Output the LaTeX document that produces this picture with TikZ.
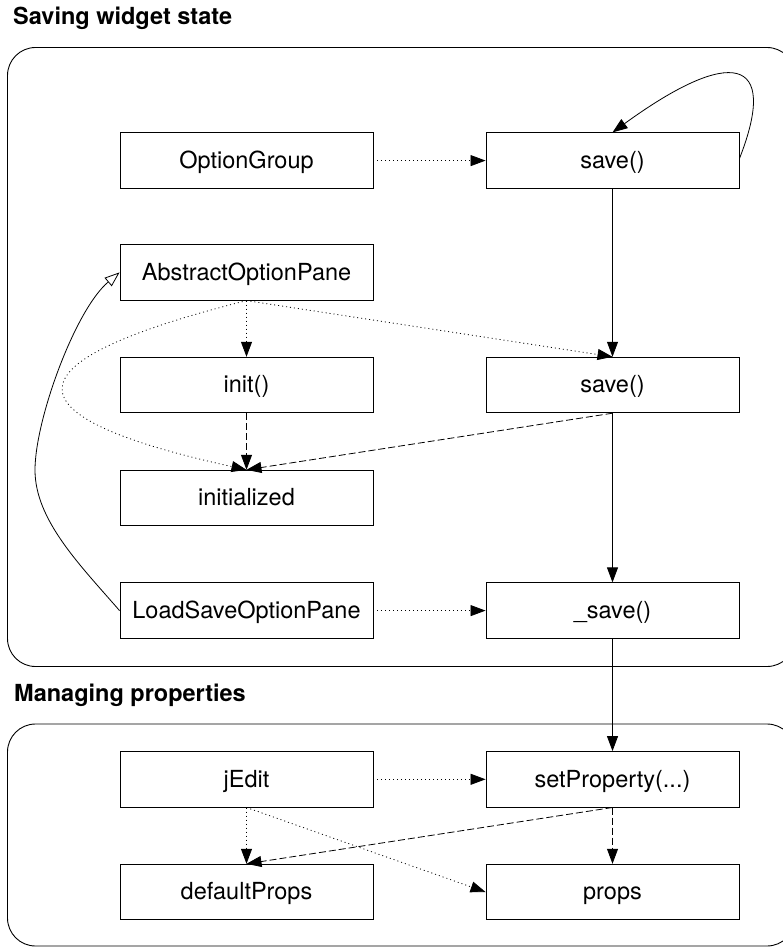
\documentclass[tikz,border=0pt]{standalone}
\usepackage{fontspec}
\setmainfont{TeX Gyre Heros}
\usetikzlibrary{arrows.meta}
\begin{document}
\begin{tikzpicture}[x=1pt,y=-1pt,
  box/.style={draw, line width=0.9pt, minimum width=253pt, minimum height=55.5pt, inner sep=0pt,
    font=\fontsize{23.5}{28}\selectfont, text height=17pt, text depth=1.5pt},
  cluster/.style={draw, line width=0.9pt, rounded corners=28pt},
  title/.style={anchor=base west, inner sep=0pt, font=\bfseries\fontsize{23.5}{28}\selectfont},
  ar/.style={line width=0.8pt, -{Triangle[length=15pt,width=11pt]}},
  openar/.style={line width=0.8pt, -{Triangle[length=15pt,width=11pt,fill=white]}},
  dtt/.style={dash pattern=on 1pt off 3pt},
  dsh/.style={dash pattern=on 7pt off 3pt}]
\useasboundingbox (0,0) rectangle (783,947);
\clip (0,0) rectangle (783,947);
% clusters
\draw[cluster] (7.5,47.5) rectangle (795,666.5);
\draw[cluster] (7.5,724) rectangle (795,946);
\node[title] (t1) at (13,25) {Saving widget state};
\node[title] (t2) at (14,701.5) {Managing properties};
% nodes
\node[box] (og)  at (246.5,160.6) {OptionGroup};
\node[box] (s1)  at (612.5,160.6) {save()};
\node[box] (aop) at (246.5,272.4) {AbstractOptionPane};
\node[box] (init) at (246.5,385) {init()};
\node[box] (s2)  at (612.5,385) {save()};
\node[box] (ini) at (246.5,498) {initialized};
\node[box] (ls)  at (246.5,610.6) {LoadSaveOptionPane};
\node[box] (us)  at (612.5,610.6) {\_save()};
\node[box] (je)  at (246.5,779.3) {jEdit};
\node[box] (sp)  at (612.5,779.3) {setProperty(...)};
\node[box] (dp)  at (246.5,892) {defaultProps};
\node[box] (pr)  at (612.5,892) {props};
% edges
\draw[dtt, ar] (og) -- (s1);
\draw[ar] ([yshift=2pt]s1.east) .. controls (780,55) and (730,47) .. (s1.north);
\draw[ar] (s1) -- (s2);
\draw[dtt, ar] (aop) -- (init);
\draw[dtt, ar] (aop.south) -- (s2.north);
\draw[dtt, ar] (aop.south) .. controls (34.5,354) and (-25.5,410) .. (ini.north);
\draw[dsh, ar] (init) -- (ini);
\draw[dsh, ar] (s2.south) -- (ini.north);
\draw[openar] (ls.west) .. controls (80,565) and (35,520) .. (35,470) .. controls (35,420) and (75,310) .. (aop.west);
\draw[ar] (s2) -- (us);
\draw[dtt, ar] (ls) -- (us);
\draw[ar] (us) -- (sp);
\draw[dtt, ar] (je) -- (sp);
\draw[dtt, ar] (je) -- (dp);
\draw[dtt, ar] (je.south) -- (pr.west);
\draw[dsh, ar] (sp) -- (pr);
\draw[dsh, ar] (sp.south) -- (dp.north);
\end{tikzpicture}
\end{document}
